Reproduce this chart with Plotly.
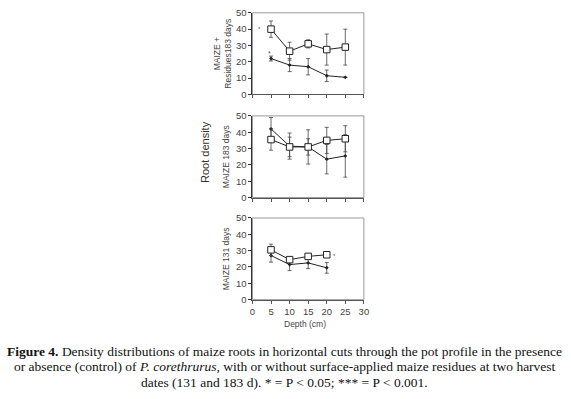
import plotly.graph_objects as go

# ---- data ----
depth = [5, 10, 15, 20, 25]
depth_131 = [5, 10, 15, 20]

# MAIZE + Residues 183 days
res183_sq = [40, 26.5, 31, 27.5, 29]
res183_sq_err = [5, 5.5, 2.5, 9.5, 11]
res183_di = [22, 18, 17, 11.5, 10.5]
res183_di_err = [1.5, 4, 5, 3.5, 0]

# MAIZE 183 days
m183_sq = [35.5, 31, 31, 35, 36]
m183_sq_err = [6.5, 6, 5, 8, 8]
m183_di = [42, 31.5, 31, 23.5, 25.5]
m183_di_err = [7, 8, 10.5, 9, 13]

# MAIZE 131 days
m131_sq = [30.5, 24.5, 26.5, 27.5]
m131_sq_err = [3.5, 1, 1, 1]
m131_di = [27, 21.5, 22.5, 19.5]
m131_di_err = [4, 3.7, 3.5, 3.3]

x_ticks = [0, 5, 10, 15, 20, 25, 30]
x_ticklabels = ["0", "5", "10", "15", "20", "25", "30"]
y_ticks = [0, 10, 20, 30, 40, 50]

panel_titles = ["MAIZE +<br>Residues183 days", "MAIZE 183 days", "MAIZE 131 days"]
caption_lines = [
    "<b>Figure 4.</b> Density distributions of maize roots in horizontal cuts through the pot profile in the presence",
    "or absence (control) of <i>P. corethrurus</i>, with or without surface-applied maize residues at two harvest",
    "dates (131 and 183 d). * = P &lt; 0.05; *** = P &lt; 0.001.",
]

W, H = 571, 399
x_dom = [253 / W, 366 / W]
panels_px = [(7, 91), (113, 197), (218, 302)]
y_doms = [[1 - b / H, 1 - t / H] for t, b in panels_px]

fig = go.Figure()

series = [
    (depth, res183_sq, res183_sq_err, depth, res183_di, res183_di_err),
    (depth, m183_sq, m183_sq_err, depth, m183_di, m183_di_err),
    (depth_131, m131_sq, m131_sq_err, depth_131, m131_di, m131_di_err),
]

for i, (xs, sq, sqe, xd, di, die) in enumerate(series):
    ax = "" if i == 0 else str(i + 1)
    fig.add_trace(go.Scatter(
        x=xd, y=di, mode="lines+markers", xaxis="x" + ax, yaxis="y" + ax,
        line=dict(color="#222", width=1),
        marker=dict(symbol="diamond", size=3, color="#222"),
        error_y=dict(type="data", array=die, color="#444", thickness=0.8, width=2),
        showlegend=False))
    fig.add_trace(go.Scatter(
        x=xs, y=sq, mode="lines+markers", xaxis="x" + ax, yaxis="y" + ax,
        line=dict(color="#222", width=1),
        marker=dict(symbol="square", size=6.5, color="white", line=dict(width=1, color="#222")),
        error_y=dict(type="data", array=sqe, color="#444", thickness=0.8, width=2),
        showlegend=False))

layout = dict(
    width=W, height=H, margin=dict(l=0, r=0, t=0, b=0),
    paper_bgcolor="white", plot_bgcolor="white",
    font=dict(family="Liberation Sans, Arial", color="#333", size=9),
)
for i in range(3):
    ax = "" if i == 0 else str(i + 1)
    layout["xaxis" + ax] = dict(
        domain=x_dom, anchor="y" + ax, range=[0, 30],
        tickvals=x_ticks, ticktext=x_ticklabels, showticklabels=(i == 2),
        ticks="outside", ticklen=3, tickcolor="#555", tickwidth=1,
        showline=True, linecolor="#555", linewidth=1, mirror=False,
        showgrid=False, zeroline=False, tickfont=dict(size=9.5, color="#444"))
    layout["yaxis" + ax] = dict(
        domain=y_doms[i], anchor="x" + ax, range=[0, 50],
        tickvals=y_ticks, ticks="outside", ticklen=3, tickcolor="#333",
        showline=True, linecolor="#333", linewidth=1,
        showgrid=False, zeroline=False, tickfont=dict(size=9.5, color="#444"),
        title=dict(text=panel_titles[i], font=dict(size=8.5, color="#444"),
                   standoff=2 if i == 0 else 4))
fig.update_layout(**layout)

# light frame (top and right)
for i in range(3):
    ax = "" if i == 0 else str(i + 1)
    fig.add_shape(type="rect", xref="x" + ax + " domain", yref="y" + ax + " domain",
                  x0=0, x1=1, y0=0, y1=1, line=dict(color="#999", width=1), layer="below")

# significance marks
for xx, yy, ref, sz in [(2, 40, "", 6), (4.6, 25, "", 7), (22, 27, "3", 6)]:
    fig.add_annotation(x=xx, y=yy, xref="x" + ref, yref="y" + ref, text="*", showarrow=False,
                       yanchor="middle", font=dict(size=sz, color="#555"))

# Root density label
fig.add_annotation(x=205 / W, y=1 - 150 / H, xref="paper", yref="paper", text="Root density",
                   textangle=-90, showarrow=False, xanchor="center", yanchor="middle",
                   font=dict(size=11, color="#333"))
# Depth label
fig.add_annotation(x=306 / W, y=1 - 327 / H, xref="paper", yref="paper", text="Depth (cm)",
                   showarrow=False, xanchor="center", yanchor="middle",
                   font=dict(size=8.5, color="#444"))

# caption
for line, yy in zip(caption_lines, [355, 371, 387]):
    fig.add_annotation(x=0.5, y=1 - yy / H, xref="paper", yref="paper",
                       text=line, showarrow=False, xanchor="center", yanchor="middle",
                       font=dict(family="Liberation Serif, Times New Roman", size=13.5, color="#111"))

fig.write_html("out.html", config={"displayModeBar": False},
               post_script="document.body.style.margin='0';")
